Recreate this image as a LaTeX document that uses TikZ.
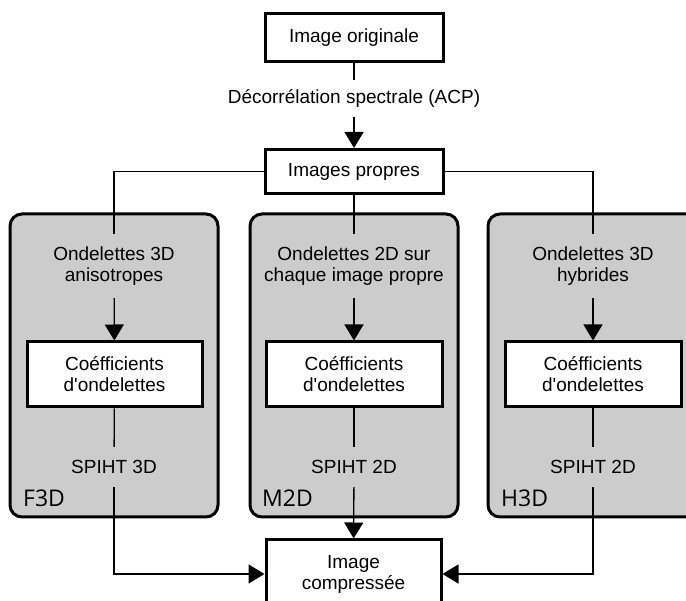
\documentclass[tikz,border=0pt]{standalone}
\usepackage{fontspec}
\setmainfont{Liberation Sans}
\newfontfamily\txtfont{Liberation Sans}
\newfontfamily\labfont{Open Sans}
\usetikzlibrary{arrows.meta}
\definecolor{panelgray}{RGB}{204,204,204}
\begin{document}
\begin{tikzpicture}[x=1pt,y=-1pt,
  box/.style={draw,line width=3pt,fill=white,inner sep=0pt,align=center,font=\txtfont\fontsize{19}{21}\selectfont},
  lbl/.style={inner sep=0pt,align=center,font=\txtfont\fontsize{19}{21}\selectfont},
  panel/.style={draw,line width=3pt,fill=panelgray,rounded corners=12pt},
  tag/.style={anchor=base west,inner sep=0pt,font=\labfont\fontsize{23}{23}\selectfont},
  conn/.style={line width=1.3pt},
  arr/.style={conn,-{Triangle[width=19pt,length=16pt]}}]
\useasboundingbox (0,0) rectangle (686,601);
\clip (0,0) rectangle (686,601);

% panels
\draw[panel] (10,214) rectangle (218,517);
\draw[panel] (250,214) rectangle (458,517);
\draw[panel] (488,214) rectangle (720,517);
\node[tag] (tf) at (23,507) {F3D};
\node[tag] (tm) at (262,507) {M2D};
\node[tag] (th) at (501,507) {H3D};

% top
\node[box,minimum width=178pt,minimum height=48pt] (orig) at (354,38) {Image originale};
\node[lbl,minimum height=37pt] (dec) at (354,98.5) {Décorrélation spectrale (ACP)};
\node[box,minimum width=178pt,minimum height=44pt] (ip) at (354,171.5) {Images propres};

% branch texts
\node[lbl,minimum height=64pt] (f3dt) at (114,266) {Ondelettes 3D\\anisotropes};
\node[lbl,minimum height=64pt] (m2dt) at (354,266) {Ondelettes 2D sur\\chaque image propre};
\node[lbl,minimum height=64pt] (h3dt) at (593,266) {Ondelettes 3D\\hybrides};

\node[box,minimum width=175pt,minimum height=65pt] (f3dc) at (114.5,374.5) {Coéfficients\\d'ondelettes};
\node[box,minimum width=176pt,minimum height=65pt] (m2dc) at (354,374.5) {Coéfficients\\d'ondelettes};
\node[box,minimum width=176pt,minimum height=65pt] (h3dc) at (593,374.5) {Coéfficients\\d'ondelettes};

\node[lbl,minimum height=40pt] (f3ds) at (114,467) {SPIHT 3D};
\node[lbl,minimum height=40pt] (m2ds) at (354,467) {SPIHT 2D};
\node[lbl,minimum height=40pt] (h3ds) at (593,467) {SPIHT 2D};

\node[box,minimum width=175pt,minimum height=68pt] (ic) at (353.5,574) {Image\\compressée};

% connectors
\draw[conn] (orig) -- (dec);
\draw[arr] (dec) -- (ip);
\draw[conn] (ip.west) -| (f3dt);
\draw[conn] (ip) -- (m2dt);
\draw[conn] (ip.east) -| (h3dt);
\draw[arr] (f3dt) -- (f3dc);
\draw[arr] (m2dt) -- (m2dc);
\draw[arr] (h3dt) -- (h3dc);
\draw[conn] (f3dc) -- (f3ds);
\draw[conn] (m2dc) -- (m2ds);
\draw[conn] (h3dc) -- (h3ds);
\draw[arr] (f3ds) |- (ic);
\draw[arr] (m2ds) -- (ic);
\draw[arr] (h3ds) |- (ic);
\end{tikzpicture}
\end{document}
